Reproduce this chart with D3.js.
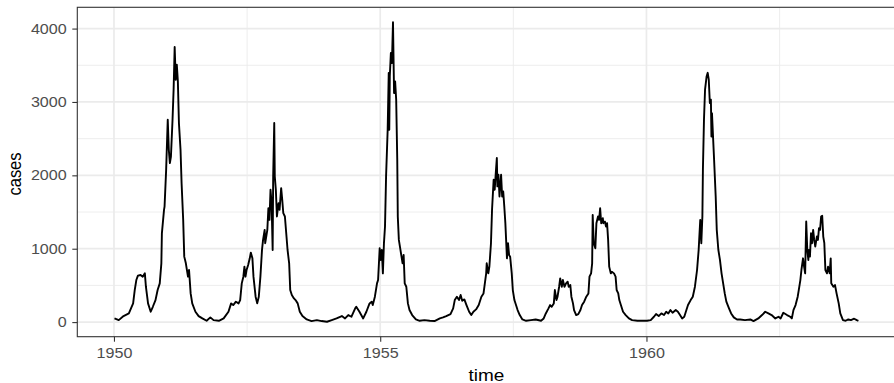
<!DOCTYPE html>
<html>
<head>
<meta charset="utf-8">
<script src="https://cdn.jsdelivr.net/npm/d3@7"></script>
<style>
  body { margin: 0; background: #fff; }
  svg { display: block; font-family: "Liberation Sans", Arial, Helvetica, sans-serif; }
</style>
</head>
<body>
<div id="chart"></div>
<script>
var width = 894;
var height = 383;

// weekly cases (decimal year, cases)
var weeks = [
  1950.01, 1950.09, 1950.18, 1950.28, 1950.32, 1950.36, 1950.39, 1950.42, 1950.45, 1950.50,
  1950.54, 1950.58, 1950.60, 1950.64, 1950.69, 1950.73, 1950.78, 1950.82, 1950.86, 1950.89,
  1950.90, 1950.94, 1950.95, 1950.98, 1951.01, 1951.03, 1951.05, 1951.07, 1951.10, 1951.12,
  1951.14, 1951.16, 1951.18, 1951.20, 1951.22, 1951.25, 1951.27, 1951.30, 1951.32, 1951.35,
  1951.39, 1951.41, 1951.44, 1951.47, 1951.53, 1951.59, 1951.66, 1951.74, 1951.81, 1951.87,
  1951.97, 1952.06,
  1952.15, 1952.20, 1952.24, 1952.29, 1952.34, 1952.37, 1952.40, 1952.43, 1952.45, 1952.47,
  1952.49, 1952.52, 1952.55, 1952.57, 1952.60, 1952.62, 1952.66, 1952.69, 1952.72, 1952.75,
  1952.78, 1952.80, 1952.83, 1952.84, 1952.86, 1952.88, 1952.90, 1952.92, 1952.94, 1952.96,
  1952.98, 1952.99, 1953.01, 1953.02, 1953.04, 1953.06, 1953.09, 1953.11, 1953.14, 1953.16,
  1953.18, 1953.21, 1953.24, 1953.26, 1953.29, 1953.31, 1953.34, 1953.38, 1953.41, 1953.45,
  1953.49, 1953.54, 1953.62, 1953.71, 1953.81, 1953.90, 1954.00, 1954.09, 1954.18, 1954.28,
  1954.34, 1954.40, 1954.46, 1954.53,
  1954.55, 1954.61, 1954.68, 1954.74, 1954.80, 1954.84, 1954.86, 1954.90, 1954.94, 1954.96,
  1954.99, 1955.01, 1955.03, 1955.05, 1955.07, 1955.09, 1955.11, 1955.14, 1955.16, 1955.17,
  1955.18, 1955.20, 1955.22, 1955.24, 1955.26, 1955.28, 1955.30, 1955.32, 1955.33, 1955.35,
  1955.38, 1955.40, 1955.42, 1955.44, 1955.46, 1955.49, 1955.52, 1955.55, 1955.60, 1955.67,
  1955.74, 1955.83, 1955.93, 1956.02, 1956.12, 1956.18, 1956.24, 1956.32, 1956.37, 1956.40,
  1956.44, 1956.48, 1956.51, 1956.54, 1956.58, 1956.62, 1956.67, 1956.71, 1956.75, 1956.80,
  1956.85, 1956.90, 1956.94,
  1956.99, 1957.00, 1957.03, 1957.05, 1957.08, 1957.10, 1957.13, 1957.15, 1957.17, 1957.19,
  1957.20, 1957.22, 1957.24, 1957.27, 1957.29, 1957.31, 1957.33, 1957.35, 1957.37, 1957.38,
  1957.40, 1957.42, 1957.44, 1957.47, 1957.49, 1957.52, 1957.55, 1957.58, 1957.62, 1957.67,
  1957.74, 1957.83, 1957.92, 1958.02, 1958.07, 1958.11, 1958.16, 1958.19, 1958.22, 1958.26,
  1958.28, 1958.31, 1958.33, 1958.36, 1958.38, 1958.41, 1958.43, 1958.46, 1958.49, 1958.52,
  1958.54, 1958.57, 1958.59, 1958.62, 1958.64, 1958.68, 1958.72, 1958.76, 1958.79, 1958.83,
  1958.87, 1958.91, 1958.93, 1958.96, 1958.98, 1958.99, 1959.01, 1959.04, 1959.06, 1959.09,
  1959.11, 1959.13, 1959.15, 1959.18, 1959.19, 1959.22, 1959.24, 1959.26, 1959.28, 1959.30,
  1959.33, 1959.35,
  1959.39, 1959.42, 1959.44, 1959.47, 1959.49, 1959.53, 1959.56, 1959.61, 1959.67, 1959.73,
  1959.83, 1959.92, 1960.01, 1960.08, 1960.14, 1960.18, 1960.23, 1960.28, 1960.33, 1960.37,
  1960.41, 1960.45, 1960.49, 1960.55, 1960.59, 1960.63, 1960.67, 1960.71, 1960.75, 1960.78,
  1960.83, 1960.87, 1960.91, 1960.95, 1960.98, 1961.01, 1961.03, 1961.05, 1961.06, 1961.08,
  1961.10, 1961.13, 1961.15, 1961.17, 1961.19, 1961.21, 1961.22, 1961.23, 1961.25, 1961.27,
  1961.30, 1961.32, 1961.35, 1961.38, 1961.41, 1961.44, 1961.47, 1961.50, 1961.55, 1961.59,
  1961.64, 1961.70,
  1961.76, 1961.85, 1961.95, 1962.01, 1962.10, 1962.17, 1962.23, 1962.29, 1962.35, 1962.42,
  1962.48, 1962.52, 1962.57, 1962.64, 1962.70, 1962.73, 1962.76, 1962.80, 1962.84, 1962.86,
  1962.89, 1962.91, 1962.94, 1962.96, 1962.98, 1963.00, 1963.02, 1963.04, 1963.05, 1963.07,
  1963.09, 1963.11, 1963.13, 1963.15, 1963.17, 1963.20, 1963.22, 1963.24, 1963.26, 1963.28,
  1963.30, 1963.32, 1963.34, 1963.36, 1963.39, 1963.41, 1963.44, 1963.46, 1963.47, 1963.51,
  1963.54, 1963.57, 1963.61, 1963.64, 1963.69, 1963.74, 1963.79, 1963.84, 1963.90, 1963.95,
  1963.98
];

var cases = [
  50, 27, 82, 118, 187, 255, 437, 573, 633, 642,
  619, 664, 482, 255, 141, 209, 300, 437, 528, 801,
  1210, 1529, 1575, 2075, 2757, 2348, 2166, 2257, 2757, 3167,
  3749, 3303, 3508, 3281, 2712, 2348, 1893, 1392, 892, 801,
  619, 710, 391, 255, 141, 82, 50, 18, 64, 27,
  18, 50,
  141, 255, 232, 278, 255, 300, 528, 619, 756, 619,
  710, 778, 869, 947, 869, 619, 346, 255, 346, 619,
  983, 1120, 1257, 1075, 1166, 1257, 1552, 1393, 1803, 1621,
  983, 1985, 2714, 1985, 1803, 1439, 1621, 1530, 1826, 1667,
  1484, 1439, 1166, 983, 801, 437, 369, 323, 300, 255,
  141, 82, 36, 14, 27, 14, 5, 27, 50, 82,
  50, 96, 73, 187,
  209, 141, 50, 141, 255, 278, 232, 346, 528, 573,
  1006, 847, 983, 664, 1075, 1302, 1985, 2621, 3397, 2621,
  3351, 3667, 3530, 4086, 3121, 3281, 3031, 2212, 1439, 1120,
  983, 892, 801, 915, 528, 482, 255, 164, 96, 36,
  18, 27, 18, 14, 50, 64, 82, 109, 187, 300,
  346, 300, 369, 291, 309, 232, 141, 96, 141, 173,
  232, 346, 391,
  664, 801, 664, 756, 1075, 1530, 1940, 1803, 2031, 2236,
  1849, 2008, 1712, 2008, 1712, 1780, 1575, 1348, 1029, 869,
  1075, 915, 892, 664, 437, 300, 232, 164, 96, 36,
  18, 27, 36, 18, 50, 118, 187, 232, 209, 255,
  437, 300, 346, 482, 596, 482, 573, 482, 528, 551,
  482, 505, 346, 255, 164, 96, 109, 164, 232, 278,
  346, 391, 619, 664, 801, 1461, 1075, 1006, 1348, 1439,
  1393, 1552, 1348, 1416, 1348, 1370, 1302, 1348, 1120, 756,
  664, 687,
  664, 619, 437, 391, 300, 209, 141, 96, 50, 27,
  18, 18, 18, 27, 73, 109, 82, 118, 96, 141,
  118, 164, 127, 164, 141, 96, 50, 73, 164, 232,
  300, 346, 482, 710, 983, 1393, 1075, 1439, 2075, 2757,
  3167, 3351, 3397, 3303, 2985, 3030, 2530, 2848, 2530, 2212,
  1712, 1257, 983, 847, 664, 528, 391, 278, 187, 118,
  64, 36,
  36, 27, 36, 14, 50, 96, 141, 118, 96, 50,
  73, 50, 127, 96, 73, 50, 164, 232, 346, 437,
  573, 710, 869, 756, 664, 1370, 983, 847, 983, 892,
  1211, 1075, 1257, 1120, 1029, 1166, 1120, 1280, 1257, 1439,
  1448, 1166, 1075, 710, 664, 756, 664, 869, 528, 482,
  505, 391, 255, 118, 27, 18, 36, 27, 46, 27,
  18
];

var xMajor = [1950, 1955, 1960];
var xMinor = [1952.5, 1957.5, 1962.5];
var yMajor = [0, 1000, 2000, 3000, 4000];
var yMinor = [500, 1500, 2500, 3500];

var panel = { left: 77.3, top: 7.3, right: 895.6, bottom: 336.7 };
var textStretch = 1.15;

var svg = d3.select('#chart')
  .append('svg')
  .attr('width', width)
  .attr('height', height);

// ggplot style 5% expansion of the data range
var xExt = d3.extent(weeks);
var xPad = (xExt[1] - xExt[0]) * 0.05;
var yExt = d3.extent(cases);
var yPad = (yExt[1] - yExt[0]) * 0.05;

var x = d3.scaleLinear()
  .domain([xExt[0] - xPad, xExt[1] + xPad])
  .range([panel.left, panel.right]);

var y = d3.scaleLinear()
  .domain([yExt[0] - yPad, yExt[1] + yPad])
  .range([panel.bottom, panel.top]);

svg.append('rect')
  .attr('x', panel.left)
  .attr('y', panel.top)
  .attr('width', panel.right - panel.left)
  .attr('height', panel.bottom - panel.top)
  .attr('fill', '#fff');

var grid = svg.append('g');

grid.selectAll('.ymin')
  .data(yMinor).enter().append('line')
  .attr('x1', panel.left).attr('x2', panel.right)
  .attr('y1', d => y(d)).attr('y2', d => y(d))
  .attr('stroke', '#EBEBEB').attr('stroke-width', 0.9);

grid.selectAll('.xmin')
  .data(xMinor).enter().append('line')
  .attr('y1', panel.top).attr('y2', panel.bottom)
  .attr('x1', d => x(d)).attr('x2', d => x(d))
  .attr('stroke', '#EBEBEB').attr('stroke-width', 0.9);

grid.selectAll('.ymaj')
  .data(yMajor).enter().append('line')
  .attr('x1', panel.left).attr('x2', panel.right)
  .attr('y1', d => y(d)).attr('y2', d => y(d))
  .attr('stroke', '#EBEBEB').attr('stroke-width', 1.7);

grid.selectAll('.xmaj')
  .data(xMajor).enter().append('line')
  .attr('y1', panel.top).attr('y2', panel.bottom)
  .attr('x1', d => x(d)).attr('x2', d => x(d))
  .attr('stroke', '#EBEBEB').attr('stroke-width', 1.7);

var line = d3.line()
  .x((d, i) => x(weeks[i]))
  .y(d => y(d));

svg.append('path')
  .datum(cases)
  .attr('d', line)
  .attr('fill', 'none')
  .attr('stroke', '#000')
  .attr('stroke-width', 1.9)
  .attr('stroke-linejoin', 'round');

svg.append('rect')
  .attr('x', panel.left)
  .attr('y', panel.top)
  .attr('width', panel.right - panel.left)
  .attr('height', panel.bottom - panel.top)
  .attr('fill', 'none')
  .attr('stroke', '#333333')
  .attr('stroke-width', 1.1);

var xAxis = d3.axisBottom(x).tickValues(xMajor).tickFormat(d3.format('d')).tickSize(5).tickPadding(6.5);
var yAxis = d3.axisLeft(y).tickValues(yMajor).tickFormat(d3.format('d')).tickSize(5).tickPadding(5.6);

var gx = svg.append('g')
  .attr('transform', 'translate(0,' + panel.bottom + ')')
  .call(xAxis);

var gy = svg.append('g')
  .attr('transform', 'translate(' + panel.left + ',0)')
  .call(yAxis);

[gx, gy].forEach(function (g) {
  g.select('.domain').remove();
  g.selectAll('.tick line').attr('stroke', '#333333').attr('stroke-width', 1.1);
  g.selectAll('.tick text')
    .attr('fill', '#4D4D4D')
    .style('font-size', '14px')
    .style('font-family', '"Liberation Sans", Arial, Helvetica, sans-serif');
});

// the picture's text is a little wider than plain Helvetica
function stretch(sel) {
  sel.each(function () {
    var len = this.getComputedTextLength();
    d3.select(this)
      .attr('textLength', len * textStretch)
      .attr('lengthAdjust', 'spacingAndGlyphs');
  });
}
stretch(gx.selectAll('.tick text'));
stretch(gy.selectAll('.tick text'));

var xTitle = svg.append('text')
  .attr('x', (panel.left + panel.right) / 2)
  .attr('y', 381)
  .attr('text-anchor', 'middle')
  .style('font-size', '16.5px')
  .attr('fill', '#000')
  .text('time');
stretch(xTitle);

svg.append('text')
  .attr('transform', 'translate(20.7,174) scale(' + textStretch + ',1) rotate(-90)')
  .attr('text-anchor', 'middle')
  .style('font-size', '16.5px')
  .attr('fill', '#000')
  .text('cases');
</script>
</body>
</html>
